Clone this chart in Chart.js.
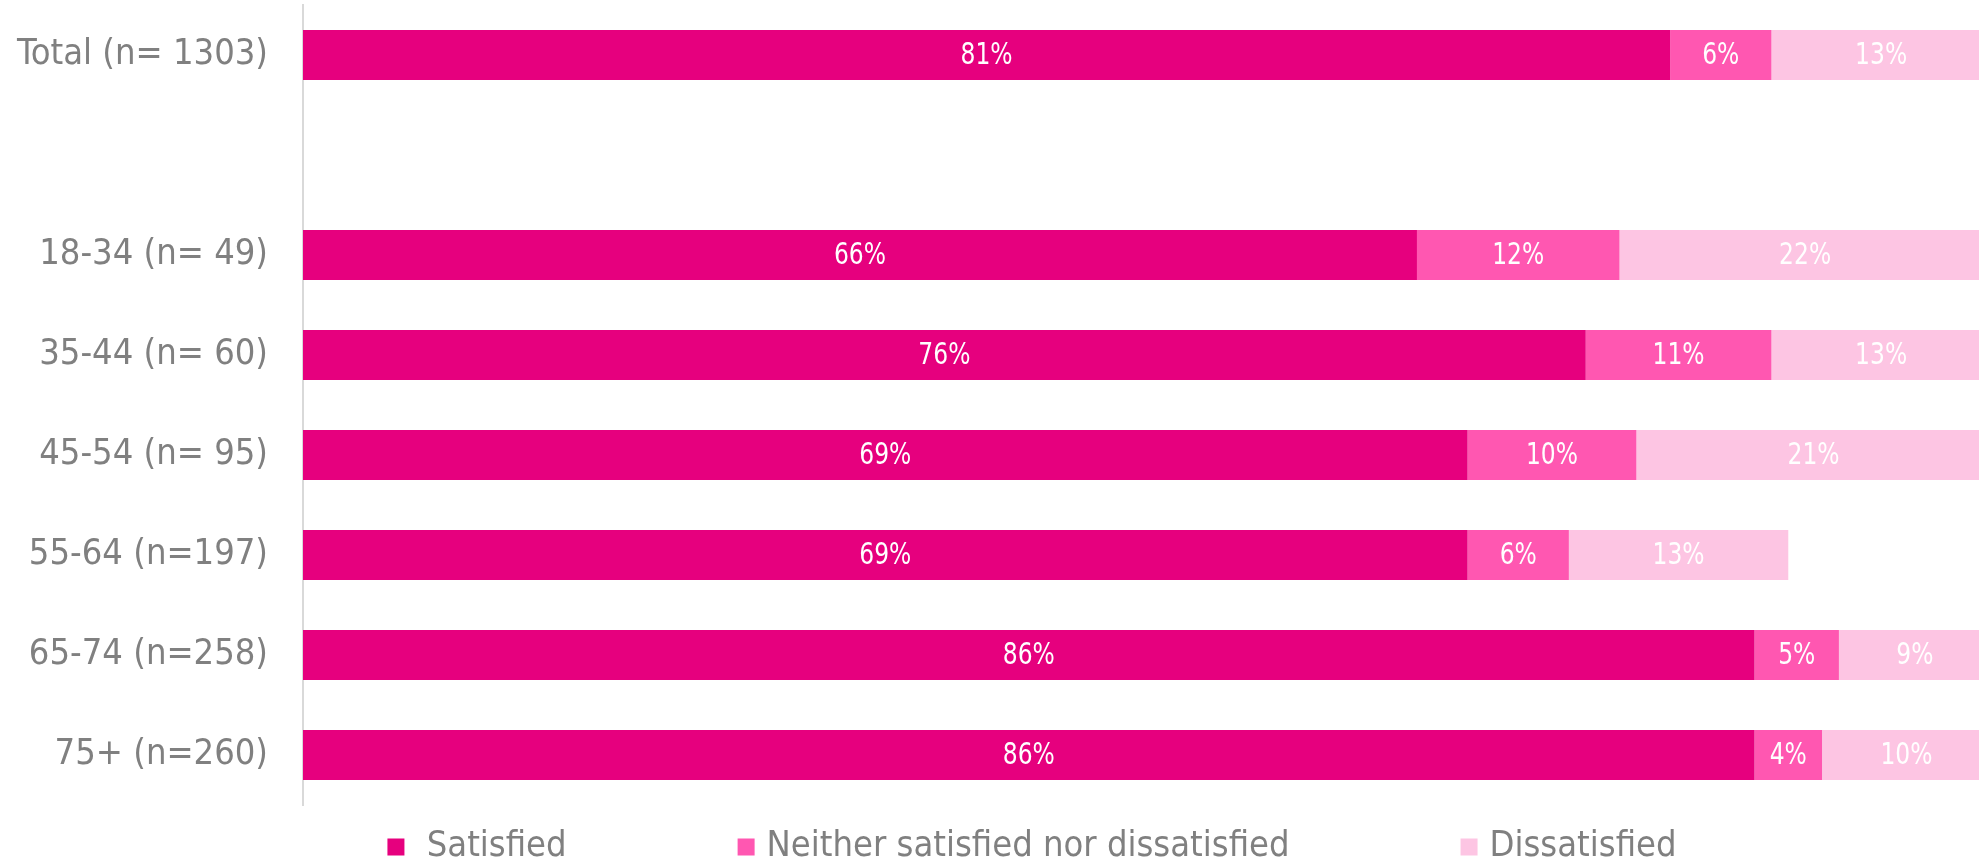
<!DOCTYPE html>
<html>
<head>
<meta charset="utf-8">
<title>Satisfaction by age group</title>
<script src="https://cdn.jsdelivr.net/npm/chart.js@4/dist/chart.umd.min.js"></script>
<style>
  html, body { margin: 0; padding: 0; background: #fff; }
  #wrap { width: 1979px; height: 864px; }
</style>
</head>
<body>
<div id="wrap"><canvas id="satChart" width="1979" height="864"></canvas></div>
<script>
// age groups, with an empty row between the total and the breakdown
const groups = ['Total (n= 1303)', '', '18-34 (n= 49)', '35-44 (n= 60)', '45-54 (n= 95)', '55-64 (n=197)', '65-74 (n=258)', '75+ (n=260)'];
const satisfied    = [81, null, 66, 76, 69, 69, 86, 86];
const neutral      = [6,  null, 12, 11, 10, 6,  5,  4];
const dissatisfied = [13, null, 22, 13, 21, 13, 9,  10];
const seriesNames  = [' Satisfied', 'Neither satisfied nor dissatisfied', 'Dissatisfied'];

const COLORS = ['#E6007E', '#FF57B1', '#FDC5E3'];
const LABEL_FONT = '"DejaVu Sans Condensed", "DejaVu Sans", sans-serif';
const VALUE_FONT = '"Liberation Sans Narrow", "DejaVu Sans Condensed", sans-serif';

// white percentage in the middle of every segment (narrowed a little)
const segmentLabels = {
  id: 'segmentLabels',
  afterDatasetsDraw(chart) {
    const { ctx } = chart;
    ctx.save();
    ctx.font = '31px ' + VALUE_FONT;
    ctx.fillStyle = '#FFFFFF';
    ctx.textAlign = 'center';
    ctx.textBaseline = 'middle';
    chart.data.datasets.forEach((ds, i) => {
      chart.getDatasetMeta(i).data.forEach((bar, j) => {
        const v = ds.data[j];
        if (v == null) return;
        ctx.save();
        ctx.translate((bar.x + bar.base) / 2, bar.y + 1);
        ctx.scale(0.84, 1);
        ctx.fillText(v + '%', 0, 0);
        ctx.restore();
      });
    });
    ctx.restore();
  }
};

// legend row along the bottom, items spaced evenly like the office export
const bottomLegend = {
  id: 'bottomLegend',
  afterDraw(chart) {
    const { ctx } = chart;
    const box = 17, gapText = 12, gapItem = 171, y = 847, centerX = 1032;
    ctx.save();
    ctx.font = '36px ' + LABEL_FONT;
    ctx.textBaseline = 'middle';
    const items = chart.data.datasets.map(ds => ({
      text: ds.label,
      color: ds.backgroundColor,
      w: box + gapText + ctx.measureText(ds.label).width
    }));
    const total = items.reduce((s, it) => s + it.w, 0) + gapItem * (items.length - 1);
    let x = centerX - total / 2;
    items.forEach(it => {
      ctx.fillStyle = it.color;
      ctx.fillRect(x, y - box / 2, box, box);
      ctx.fillStyle = '#808080';
      ctx.fillText(it.text, x + box + gapText, y);
      x += it.w + gapItem;
    });
    ctx.restore();
  }
};

new Chart(document.getElementById('satChart'), {
  type: 'bar',
  data: {
    labels: groups,
    datasets: [satisfied, neutral, dissatisfied].map((values, i) => ({
      label: seriesNames[i],
      data: values,
      backgroundColor: COLORS[i],
      borderWidth: 0,
      barPercentage: 0.5,
      categoryPercentage: 1
    }))
  },
  options: {
    indexAxis: 'y',
    responsive: false,
    animation: false,
    layout: { padding: { top: 5, left: 0, right: 0, bottom: 59 } },
    plugins: {
      legend: { display: false },
      tooltip: { enabled: false }
    },
    scales: {
      x: {
        stacked: true,
        display: false,
        min: 0,
        max: 99.3
      },
      y: {
        stacked: true,
        afterFit(scale) {
          // fixed label column; labels sit inside their rows, no overhang
          scale.width = 303;
          scale.paddingTop = 0;
          scale.paddingBottom = 0;
        },
        grid: { display: false, drawTicks: false },
        border: { display: true, color: '#D9D9D9', width: 2 },
        ticks: {
          padding: 35,
          color: '#808080',
          font: { family: LABEL_FONT, size: 36 }
        }
      }
    }
  },
  plugins: [segmentLabels, bottomLegend]
});
</script>
</body>
</html>
